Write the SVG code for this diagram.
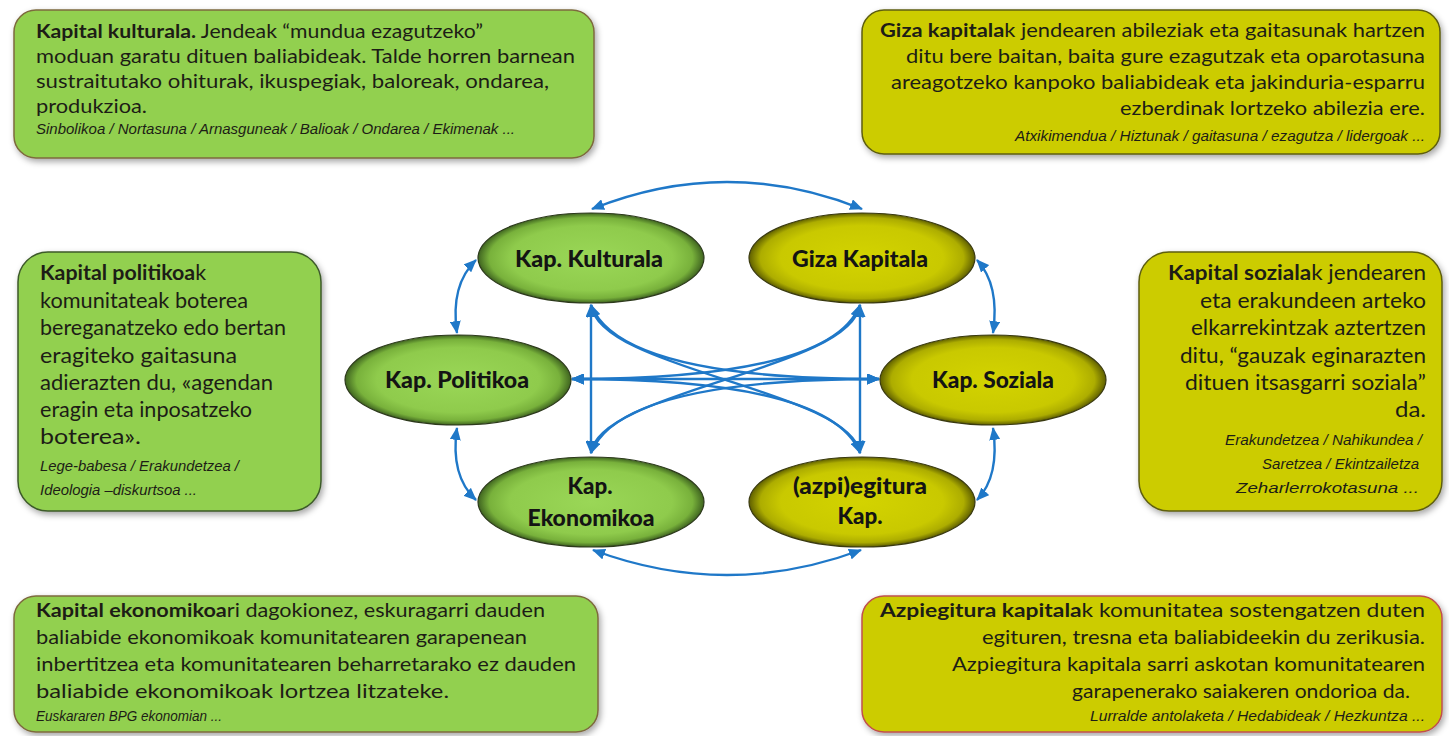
<svg xmlns="http://www.w3.org/2000/svg" width="1449" height="736" viewBox="0 0 1449 736">
<defs>
<style>
.t{font-family:Lato,"Open Sans","Liberation Sans",sans-serif;font-size:19px;fill:#1d1d16}
.t3{font-family:Lato,"Open Sans","Liberation Sans",sans-serif;font-size:20.5px;fill:#1d1d16}
.b{font-weight:bold}
.i{font-family:"Liberation Sans",Arial,sans-serif;font-style:italic;font-size:15px;fill:#1d1d16}
.el{font-family:Lato,"Open Sans","Liberation Sans",sans-serif;font-weight:900;font-size:23px;fill:#141414;text-anchor:middle}
.c{fill:none;stroke:#1f78c8;stroke-width:2.4;marker-start:url(#ah);marker-end:url(#ah)}
.bg{fill:#92d050}
.by{fill:#cccc00}
</style>
<marker id="ah" markerUnits="userSpaceOnUse" markerWidth="13" markerHeight="11" viewBox="0 0 13 11" refX="12" refY="5.5" orient="auto-start-reverse">
<path d="M0,0 L13,5.5 L0,11 z" fill="#1f78c8"/>
</marker>
<radialGradient id="gG" cx="50%" cy="50%" r="50%">
<stop offset="0" stop-color="#9ad757"/>
<stop offset="0.72" stop-color="#8fcb4c"/>
<stop offset="0.9" stop-color="#78b13b"/>
<stop offset="1" stop-color="#3f6420"/>
</radialGradient>
<radialGradient id="gY" cx="50%" cy="50%" r="50%">
<stop offset="0" stop-color="#d3d300"/>
<stop offset="0.72" stop-color="#c9c900"/>
<stop offset="0.9" stop-color="#adad00"/>
<stop offset="1" stop-color="#5f5f00"/>
</radialGradient>
<filter id="sh" x="-10%" y="-10%" width="125%" height="130%">
<feDropShadow dx="2" dy="3" stdDeviation="3" flood-color="#000" flood-opacity="0.35"/>
</filter>
</defs>
<rect width="1449" height="736" fill="#ffffff"/>

<g id="connectors">
<path class="c" d="M592,209 Q727,155 862,209"/>
<path class="c" d="M593,550 Q727,600 861,550"/>
<path class="c" d="M457,333 Q450,285 476,260"/>
<path class="c" d="M457,428 Q450,476 476,500"/>
<path class="c" d="M977,260 Q1000,285 993,333"/>
<path class="c" d="M993,428 Q1000,476 977,500"/>
<path class="c" d="M591,305 L591,453"/>
<path class="c" d="M860,305 L860,453"/>
<path class="c" d="M572,379 L879,379"/>
<path class="c" d="M591,305 Q620,379 879,379"/>
<path class="c" d="M591,453 Q620,379 879,379"/>
<path class="c" d="M860,305 Q831,379 572,379"/>
<path class="c" d="M860,453 Q831,379 572,379"/>
<path class="c" d="M591,305 C600,370 850,390 860,453"/>
<path class="c" d="M860,305 C850,370 600,390 591,453"/>
</g>

<g id="node-kulturala">
<ellipse cx="591" cy="258" rx="113" ry="45" fill="url(#gG)" stroke="#2d3a1c" stroke-width="1.2"/>
<text class="el" x="589" y="267" textLength="148" lengthAdjust="spacingAndGlyphs">Kap. Kulturala</text>
</g>
<g id="node-giza">
<ellipse cx="862" cy="258" rx="113" ry="45" fill="url(#gY)" stroke="#3a3a10" stroke-width="1.2"/>
<text class="el" x="860" y="267" textLength="136" lengthAdjust="spacingAndGlyphs">Giza Kapitala</text>
</g>
<g id="node-politikoa">
<ellipse cx="458" cy="380" rx="113" ry="45" fill="url(#gG)" stroke="#2d3a1c" stroke-width="1.2"/>
<text class="el" x="457" y="388" textLength="144" lengthAdjust="spacingAndGlyphs">Kap. Politikoa</text>
</g>
<g id="node-soziala">
<ellipse cx="993" cy="380" rx="113" ry="45" fill="url(#gY)" stroke="#3a3a10" stroke-width="1.2"/>
<text class="el" x="993" y="388" textLength="122" lengthAdjust="spacingAndGlyphs">Kap. Soziala</text>
</g>
<g id="node-ekonomikoa">
<ellipse cx="591" cy="502" rx="113" ry="45" fill="url(#gG)" stroke="#2d3a1c" stroke-width="1.2"/>
<text class="el" x="590" y="494" textLength="45" lengthAdjust="spacingAndGlyphs">Kap.</text>
<text class="el" x="591" y="526" textLength="127" lengthAdjust="spacingAndGlyphs">Ekonomikoa</text>
</g>
<g id="node-azpiegitura">
<ellipse cx="862" cy="502" rx="113" ry="45" fill="url(#gY)" stroke="#3a3a10" stroke-width="1.2"/>
<text class="el" x="860" y="494" textLength="134" lengthAdjust="spacingAndGlyphs">(azpi)egitura</text>
<text class="el" x="860" y="524" textLength="45" lengthAdjust="spacingAndGlyphs">Kap.</text>
</g>

<g id="box-kulturala">
<rect class="bg" x="14" y="10" width="580" height="148" rx="22" stroke="#7d6a3e" stroke-width="1.5" filter="url(#sh)"/>
<text class="t" x="36" y="38" textLength="447" lengthAdjust="spacingAndGlyphs"><tspan class="b">Kapital kulturala.</tspan> Jendeak “mundua ezagutzeko”</text>
<text class="t" x="36" y="63" textLength="539" lengthAdjust="spacingAndGlyphs">moduan garatu dituen  baliabideak. Talde horren barnean</text>
<text class="t" x="36" y="88" textLength="513" lengthAdjust="spacingAndGlyphs">sustraitutako ohiturak, ikuspegiak, baloreak, ondarea,</text>
<text class="t" x="36" y="113" textLength="111" lengthAdjust="spacingAndGlyphs">produkzioa.</text>
<text class="i" x="36" y="134" textLength="479" lengthAdjust="spacingAndGlyphs">Sinbolikoa / Nortasuna  / Arnasguneak / Balioak / Ondarea / Ekimenak ...</text>
</g>

<g id="box-giza">
<rect class="by" x="862" y="10" width="578" height="144" rx="22" stroke="#5e5e10" stroke-width="1.5" filter="url(#sh)"/>
<text class="t" x="880" y="37" textLength="545" lengthAdjust="spacingAndGlyphs"><tspan class="b">Giza kapitala</tspan>k jendearen abileziak eta gaitasunak hartzen</text>
<text class="t" x="906" y="63" textLength="519" lengthAdjust="spacingAndGlyphs">ditu bere baitan, baita gure ezagutzak eta oparotasuna</text>
<text class="t" x="891" y="89" textLength="534" lengthAdjust="spacingAndGlyphs">areagotzeko kanpoko baliabideak eta jakinduria-esparru</text>
<text class="t" x="1120" y="115" textLength="305" lengthAdjust="spacingAndGlyphs">ezberdinak lortzeko abilezia ere.</text>
<text class="i" x="1015" y="141" textLength="410" lengthAdjust="spacingAndGlyphs">Atxikimendua / Hiztunak / gaitasuna / ezagutza / lidergoak ...</text>
</g>

<g id="box-politikoa">
<rect class="bg" x="18" y="252" width="303" height="259" rx="30" stroke="#3d5a2a" stroke-width="1.5" filter="url(#sh)"/>
<text class="t3" x="40" y="280" textLength="166" lengthAdjust="spacingAndGlyphs"><tspan class="b">Kapital politikoa</tspan>k</text>
<text class="t3" x="40" y="308" textLength="208" lengthAdjust="spacingAndGlyphs">komunitateak boterea</text>
<text class="t3" x="40" y="335" textLength="246" lengthAdjust="spacingAndGlyphs">bereganatzeko edo bertan</text>
<text class="t3" x="40" y="363" textLength="197" lengthAdjust="spacingAndGlyphs">eragiteko gaitasuna</text>
<text class="t3" x="40" y="390" textLength="233" lengthAdjust="spacingAndGlyphs">adierazten du, «agendan</text>
<text class="t3" x="40" y="417" textLength="212" lengthAdjust="spacingAndGlyphs">eragin eta inposatzeko</text>
<text class="t3" x="40" y="444" textLength="101" lengthAdjust="spacingAndGlyphs">boterea».</text>
<text class="i" x="40" y="471" textLength="199" lengthAdjust="spacingAndGlyphs">Lege-babesa / Erakundetzea /</text>
<text class="i" x="40" y="495" textLength="157" lengthAdjust="spacingAndGlyphs">Ideologia –diskurtsoa ...</text>
</g>

<g id="box-soziala">
<rect class="by" x="1139" y="252" width="303" height="259" rx="30" stroke="#5e5e10" stroke-width="1.5" filter="url(#sh)"/>
<text class="t3" x="1168" y="280" textLength="258" lengthAdjust="spacingAndGlyphs"><tspan class="b">Kapital soziala</tspan>k jendearen</text>
<text class="t3" x="1200" y="308" textLength="226" lengthAdjust="spacingAndGlyphs">eta erakundeen arteko</text>
<text class="t3" x="1191" y="335" textLength="235" lengthAdjust="spacingAndGlyphs">elkarrekintzak aztertzen</text>
<text class="t3" x="1180" y="363" textLength="246" lengthAdjust="spacingAndGlyphs">ditu, “gauzak eginarazten</text>
<text class="t3" x="1185" y="390" textLength="241" lengthAdjust="spacingAndGlyphs">dituen itsasgarri soziala”</text>
<text class="t3" x="1395" y="417" textLength="31" lengthAdjust="spacingAndGlyphs">da.</text>
<text class="i" x="1225" y="445" textLength="197" lengthAdjust="spacingAndGlyphs">Erakundetzea / Nahikundea /</text>
<text class="i" x="1262" y="469" textLength="157" lengthAdjust="spacingAndGlyphs">Saretzea / Ekintzailetza</text>
<text class="i" x="1236" y="493" textLength="183" lengthAdjust="spacingAndGlyphs">Zeharlerrokotasuna ...</text>
</g>

<g id="box-ekonomikoa">
<rect class="bg" x="14" y="596" width="584" height="136" rx="22" stroke="#7d6a3e" stroke-width="1.5" filter="url(#sh)"/>
<text class="t" x="36" y="617" textLength="509" lengthAdjust="spacingAndGlyphs"><tspan class="b">Kapital ekonomikoa</tspan>ri dagokionez, eskuragarri dauden</text>
<text class="t" x="36" y="644" textLength="491" lengthAdjust="spacingAndGlyphs">baliabide ekonomikoak komunitatearen garapenean</text>
<text class="t" x="36" y="671" textLength="540" lengthAdjust="spacingAndGlyphs">inbertitzea eta  komunitatearen beharretarako ez dauden</text>
<text class="t" x="36" y="698" textLength="413" lengthAdjust="spacingAndGlyphs">baliabide ekonomikoak lortzea litzateke.</text>
<text class="i" x="36" y="721" textLength="186" lengthAdjust="spacingAndGlyphs">Euskararen BPG ekonomian ...</text>
</g>

<g id="box-azpiegitura">
<rect class="by" x="862" y="596" width="580" height="136" rx="22" stroke="#c0504d" stroke-width="1.5" filter="url(#sh)"/>
<text class="t" x="880" y="617" textLength="545" lengthAdjust="spacingAndGlyphs"><tspan class="b">Azpiegitura kapitala</tspan>k komunitatea sostengatzen duten</text>
<text class="t" x="982" y="644" textLength="443" lengthAdjust="spacingAndGlyphs">egituren, tresna eta  baliabideekin du zerikusia.</text>
<text class="t" x="952" y="671" textLength="473" lengthAdjust="spacingAndGlyphs">Azpiegitura kapitala sarri askotan komunitatearen</text>
<text class="t" x="1072" y="698" textLength="338" lengthAdjust="spacingAndGlyphs">garapenerako saiakeren ondorioa da.</text>
<text class="i" x="1090" y="721" textLength="335" lengthAdjust="spacingAndGlyphs">Lurralde antolaketa / Hedabideak / Hezkuntza ...</text>
</g>
</svg>
